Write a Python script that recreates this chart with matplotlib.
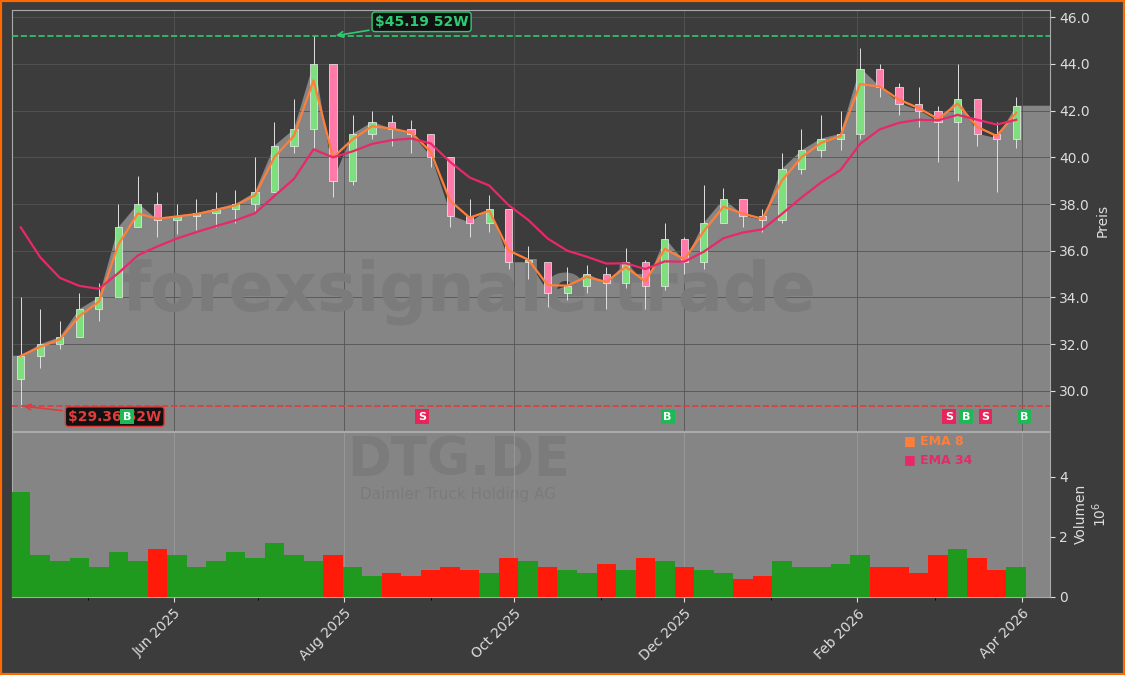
import matplotlib
matplotlib.use('Agg')
import matplotlib.pyplot as plt
import matplotlib.dates as mdates
import pandas as pd
import numpy as np

# weekly bars (week start)
weeks = pd.date_range('2025-04-07', periods=52, freq='7D')
close = [31.5, 32.0, 32.3, 33.5, 34.0, 37.0, 38.0, 37.3, 37.5, 37.6, 37.8, 38.0, 38.5,
         40.5, 41.2, 44.0, 39.0, 41.0, 41.5, 41.2, 41.0, 40.0, 37.5, 37.2, 37.8, 35.5,
         35.5, 34.2, 34.5, 35.0, 34.6, 35.5, 34.5, 36.5, 35.5, 37.2, 38.2, 37.5, 37.3,
         39.5, 40.3, 40.8, 41.0, 43.8, 43.0, 42.3, 42.0, 41.5, 42.5, 41.0, 40.8, 42.2]
high = [34.0, 33.5, 33.0, 34.2, 34.6, 38.0, 39.2, 38.5, 38.0, 38.2, 38.5, 38.6, 40.0,
        41.5, 42.5, 45.2, 43.8, 41.8, 42.0, 41.8, 41.6, 41.0, 38.8, 38.2, 38.4, 37.8,
        36.2, 35.2, 35.3, 35.4, 35.3, 36.1, 35.6, 37.2, 36.6, 38.8, 38.7, 38.0, 37.8,
        40.2, 41.2, 41.8, 42.0, 44.7, 44.0, 43.2, 43.0, 42.2, 44.0, 42.2, 41.5, 42.6]
low = [29.3, 31.0, 31.8, 32.5, 33.0, 34.2, 37.0, 36.6, 36.7, 36.9, 37.0, 37.2, 37.6,
       38.5, 40.2, 40.4, 38.3, 38.8, 40.8, 40.5, 40.2, 39.6, 37.0, 36.6, 36.8, 35.2,
       34.8, 33.6, 33.9, 34.2, 33.5, 34.4, 33.5, 34.3, 35.0, 35.2, 37.4, 37.0, 36.8,
       37.2, 39.3, 40.0, 40.3, 40.8, 42.6, 41.8, 41.3, 39.8, 39.0, 40.5, 38.5, 40.4]
volume = [3.5, 1.4, 1.2, 1.3, 1.0, 1.5, 1.2, 1.6, 1.4, 1.0, 1.2, 1.5, 1.3, 1.8, 1.4, 1.2,
          1.4, 1.0, 0.7, 0.8, 0.7, 0.9, 1.0, 0.9, 0.8, 1.3, 1.2, 1.0, 0.9, 0.8, 1.1, 0.9,
          1.3, 1.2, 1.0, 0.9, 0.8, 0.6, 0.7, 1.2, 1.0, 1.0, 1.1, 1.4, 1.0, 1.0, 0.8, 1.4,
          1.6, 1.3, 0.9, 1.0]
signal_dates = ['2025-05-15', '2025-08-29', '2025-11-25', '2026-03-06', '2026-03-12', '2026-03-19', '2026-04-02']
signal_kind = ['B', 'S', 'B', 'S', 'B', 'S', 'B']
hi52, lo52 = 45.19, 29.36

opn = [close[0] - 1.0] + close[:-1]
s = pd.Series(close, index=weeks)
ema8 = s.ewm(span=8 / 5, adjust=False).mean()
ema34 = pd.Series([37.0] + close[1:], index=weeks).ewm(span=34 / 5, adjust=False).mean()

BG = '#3c3c3c'
GREY = '#858585'
fig = plt.figure(figsize=(11.25, 6.75), dpi=100, facecolor=BG)
fig.patches.append(plt.Rectangle((0, 0), 1, 1, transform=fig.transFigure, fill=False,
                                 edgecolor='#ff6a00', linewidth=3))
ax = fig.add_axes([0.011, 0.362, 0.922, 0.623], facecolor=BG)
axv = fig.add_axes([0.011, 0.116, 0.922, 0.244], facecolor=GREY, sharex=ax)

xlim = (pd.Timestamp('2025-04-04'), pd.Timestamp('2026-04-11'))
ymin, ymax = 28.3, 46.3
fx = [xlim[0]] + list(weeks) + [xlim[1]]
fy = [close[0]] + close + [close[-1]]
ax.fill_between(fx, fy, ymin, color=GREY, zorder=1)
ax.set_ylim(ymin, ymax)
ax.set_xlim(*xlim)
ax.grid(True, color='#555555', linewidth=0.6, zorder=0)

w = 2.6
for d, o, c, h, l in zip(weeks, opn, close, high, low):
    col = '#7ddf7d' if c >= o else '#ff7aa8'
    ax.vlines(d, l, h, color='#e0e0e0', linewidth=0.7, zorder=3)
    ax.bar(d, abs(c - o) or 0.1, bottom=min(o, c), width=w, color=col,
           edgecolor='#f0f0f0', linewidth=0.5, zorder=4)

ax.plot(weeks, ema8, color='#ff7f3a', linewidth=1.6, zorder=5)
ax.plot(weeks, ema34, color='#e8286a', linewidth=1.6, zorder=5)

ax.axhline(hi52, color='#2ecc71', linestyle='--', linewidth=1.2, zorder=6)
ax.axhline(lo52, color='#e03c3c', linestyle='--', linewidth=1.2, zorder=6)
ax.annotate('$45.19 52W', xy=(pd.Timestamp('2025-07-28'), hi52), xytext=(pd.Timestamp('2025-08-12'), 45.8),
            color='#2ecc71', fontsize=10, fontweight='bold', va='center',
            bbox=dict(boxstyle='round,pad=0.2', fc='#111111', ec='#2ecc71'),
            arrowprops=dict(arrowstyle='->', color='#2ecc71', lw=1.2), zorder=8)
ax.annotate('$29.36 52W', xy=(pd.Timestamp('2025-04-07'), lo52), xytext=(pd.Timestamp('2025-04-24'), 28.9),
            color='#e03c3c', fontsize=10, fontweight='bold', va='center',
            bbox=dict(boxstyle='round,pad=0.2', fc='#111111', ec='#e03c3c'),
            arrowprops=dict(arrowstyle='->', color='#e03c3c', lw=1.2), zorder=8)

for d, k in zip(signal_dates, signal_kind):
    ax.text(pd.Timestamp(d), 28.9, k, color='white', fontsize=8, fontweight='bold',
            ha='center', va='center', zorder=9,
            bbox=dict(boxstyle='square,pad=0.25', fc='#1db954' if k == 'B' else '#e8245a', ec='none'))

ax.text(0.44, 0.33, 'forexsignale.trade', transform=ax.transAxes, fontsize=48,
        fontweight='bold', color='#7b7b7b', ha='center', va='center', zorder=2)

ax.yaxis.tick_right()
ax.yaxis.set_label_position('right')
ax.set_ylabel('Preis', color='#dddddd')
ax.set_yticks(np.arange(30, 46.1, 2))
ax.yaxis.set_major_formatter(matplotlib.ticker.FormatStrFormatter('%.1f'))
ax.tick_params(axis='y', colors='#dddddd', labelsize=10)
ax.tick_params(axis='x', labelbottom=False, length=0)
for sp in ax.spines.values():
    sp.set_color('#aaaaaa')

vcol = ['#1f9a1f' if c >= o else '#ff1a0a' for o, c in zip(opn, close)]
axv.bar(weeks, volume, width=7, color=vcol, zorder=3)
axv.set_ylim(0, 5.5)
axv.yaxis.tick_right()
axv.yaxis.set_label_position('right')
axv.set_yticks([0, 2, 4])
axv.set_ylabel('Volumen\n$10^6$', color='#dddddd')
axv.tick_params(axis='y', colors='#dddddd', labelsize=10)
axv.tick_params(axis='x', colors='#dddddd', labelsize=10)
axv.grid(True, axis='x', color='#9a9a9a', linewidth=0.6, zorder=0)
axv.xaxis.set_major_locator(mdates.MonthLocator(bymonth=[2, 4, 6, 8, 10, 12]))
axv.xaxis.set_minor_locator(mdates.MonthLocator())
axv.xaxis.set_major_formatter(mdates.DateFormatter('%b %Y'))
plt.setp(axv.get_xticklabels(), rotation=45, ha='right', rotation_mode='anchor')
for sp in axv.spines.values():
    sp.set_color('#aaaaaa')
axv.text(0.43, 0.83, 'DTG.DE', transform=axv.transAxes, fontsize=38, fontweight='bold',
         color='#7b7b7b', ha='center', va='center', zorder=1)
axv.text(0.43, 0.62, 'Daimler Truck Holding AG', transform=axv.transAxes, fontsize=11,
         color='#7b7b7b', ha='center', va='center', zorder=1)
axv.text(0.86, 0.95, '■ EMA 8', transform=axv.transAxes, color='#ff7f3a', fontsize=9, fontweight='bold', va='center')
axv.text(0.86, 0.83, '■ EMA 34', transform=axv.transAxes, color='#e8286a', fontsize=9, fontweight='bold', va='center')

fig.savefig('out.png', dpi=100, facecolor=BG)
